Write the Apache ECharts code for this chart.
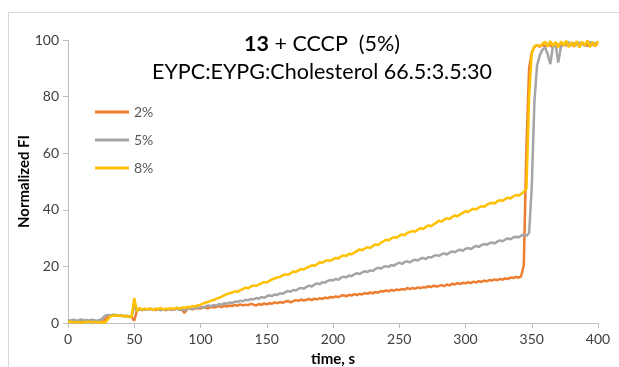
<!DOCTYPE html>
<html>
<head>
<meta charset="utf-8">
<script src="https://cdn.jsdelivr.net/npm/echarts@6/dist/echarts.min.js"></script>
<style>
  html, body { margin: 0; padding: 0; background: #fff; }
  #chart { width: 619px; height: 367px; }
</style>
</head>
<body>
<div id="chart"></div>
<script>
// time axis, one reading every 2 s
var timeS = [];
for (var k = 0; k <= 200; k++) { timeS.push(k * 2); }

var xTicks = [0, 50, 100, 150, 200, 250, 300, 350, 400];
var yTicks = [0, 20, 40, 60, 80, 100];
var seriesNames = ['2%', '5%', '8%'];

var fi2 = [
  0.6,0.4,0.7,0.5,0.3,0.6,0.9,0.4,0.5,0.6,
  0.4,0.5,0.3,0.6,1.3,2.3,2.6,2.7,2.8,2.6,
  2.7,2.5,2.4,2.3,2.2,0.8,4.4,5.0,4.6,4.9,
  4.7,5.1,4.8,4.6,5.0,4.8,4.9,4.5,5.0,4.8,
  4.7,5.0,4.9,4.6,3.6,4.9,5.1,4.8,5.2,5.3,
  5.1,5.6,5.4,5.2,5.8,5.5,5.7,6.0,5.6,6.1,
  5.8,6.2,6.0,6.4,6.1,6.6,6.2,6.5,6.3,6.8,
  6.5,6.2,6.7,6.4,6.9,6.6,7.0,6.8,7.3,7.0,
  7.4,7.1,7.6,7.8,7.3,7.7,8.1,7.8,8.3,7.9,
  8.2,8.5,8.1,8.6,8.3,8.8,8.5,9.0,8.7,9.2,
  9.0,9.4,9.1,9.6,9.8,9.4,10.0,9.7,10.2,9.9,
  10.3,10.1,10.6,10.3,10.8,10.5,11.0,10.7,11.3,11.1,
  11.5,11.2,11.7,11.4,11.9,11.6,12.0,11.8,12.3,12.0,
  12.4,12.1,12.6,12.3,12.7,12.5,13.0,12.7,13.2,12.9,
  13.1,13.4,13.0,13.6,13.3,13.9,13.6,14.1,13.8,14.2,
  14.0,14.4,14.1,14.6,14.3,14.8,14.5,15.0,14.7,15.2,
  15.0,15.4,15.1,15.6,15.3,15.8,15.5,16.1,15.9,16.3,
  16.0,16.5,20.5,62,90,95.5,97.5,98.2,97.6,98.4,
  97.8,98.6,98.1,97.5,98.8,98.2,97.7,98.5,98.0,98.9,
  98.3,97.8,98.6,98.1,99.0,98.4,97.9,98.7,98.2,98.9,
  98.5
];

var fi5 = [
  1.1,0.8,1.2,0.9,1.0,1.3,0.8,1.1,0.9,1.2,
  1.0,0.8,1.1,1.6,2.6,2.8,2.7,2.9,2.8,2.6,
  2.7,2.5,2.6,2.4,2.3,5.8,4.3,4.9,4.6,5.0,
  4.7,4.9,4.6,5.1,4.8,4.5,4.9,4.7,5.0,4.6,
  4.8,5.1,4.7,4.9,4.4,5.0,5.2,4.9,5.4,5.3,
  5.6,5.4,5.9,6.2,5.9,6.4,6.1,6.7,6.5,7.0,
  6.8,7.3,7.0,7.6,7.4,7.9,7.7,8.2,8.0,8.5,
  8.3,8.8,8.6,9.2,8.9,9.4,9.8,9.5,10.1,9.9,
  10.5,10.3,10.9,11.3,11.0,11.7,11.5,12.1,12.4,12.1,
  12.8,13.2,12.9,13.6,14.0,13.7,14.4,14.2,14.9,15.2,
  15.0,15.6,15.3,16.0,16.4,16.1,16.8,16.5,17.2,17.6,
  17.3,17.9,18.3,18.0,18.6,18.4,19.1,19.5,19.2,19.8,
  20.1,19.8,20.5,20.2,20.9,21.3,20.9,21.5,21.8,21.4,
  22.0,22.4,22.1,22.7,23.0,22.6,23.3,23.1,23.7,24.0,
  23.7,24.3,24.6,24.2,24.9,25.3,25.0,25.6,25.9,25.5,
  26.2,26.5,26.1,26.8,27.2,26.9,27.5,27.9,27.6,28.2,
  28.5,28.1,28.8,29.2,28.9,29.5,29.9,29.6,30.2,30.5,
  30.2,30.9,31.1,30.8,31.8,48,78,91,94.5,96.5,
  97.5,95,91.5,97.8,98.5,92,97.5,98.8,98.3,99.2,
  98.5,98.9,98.2,99.1,98.6,98.0,98.8,99.3,98.4,98.9,
  98.6
];

var fi8 = [
  0.3,0.5,0.2,0.4,0.3,0.1,0.4,0.3,0.5,0.2,
  0.4,0.3,0.2,0.3,0.2,1.2,2.4,2.6,2.7,2.5,
  2.6,2.4,2.5,2.3,2.2,8.8,4.2,5.3,4.7,5.1,
  4.8,5.2,4.6,5.0,4.9,5.3,4.8,5.1,4.9,5.2,
  5.0,5.4,5.1,5.5,5.3,5.7,5.5,6.0,5.8,6.3,
  6.4,6.9,7.2,7.5,7.9,8.1,8.6,8.9,9.3,9.8,
  10.2,10.5,10.8,11.2,11.0,11.6,12.0,12.5,12.3,12.9,
  13.3,13.1,13.6,14.0,14.5,14.3,14.9,15.4,15.8,16.1,
  16.3,16.8,17.2,17.0,17.6,18.2,18.0,18.6,19.1,18.9,
  19.5,19.9,20.4,20.2,20.8,21.5,21.3,21.9,22.2,22.0,
  22.5,23.0,22.8,23.5,23.9,23.7,24.5,24.2,24.9,25.4,
  26.0,25.7,26.3,26.8,26.5,27.2,27.8,27.5,28.3,28.8,
  29.4,29.2,29.9,30.3,30.1,30.8,31.3,31.0,31.8,32.2,
  32.5,32.2,33.0,33.5,33.2,33.9,34.5,34.2,34.9,35.4,
  36.2,35.8,36.6,37.0,36.7,37.5,38.0,37.7,38.4,38.9,
  39.5,39.2,39.9,40.4,40.1,40.8,41.3,41.0,41.8,42.2,
  42.5,42.2,43.0,43.4,43.1,43.8,44.3,44.0,44.7,45.2,
  45.0,45.6,46.3,47.5,80,95.5,97.8,98.2,97.9,98.5,
  99.4,97.6,99.6,97.9,99.3,97.4,99.5,98.0,99.7,97.5,
  99.2,97.8,99.6,97.3,99.4,98.1,99.8,97.5,99.3,97.7,
  99.6
];

var colors = ['#ED7D31', '#A5A5A5', '#FFC000'];
var font = 'Lato, "Open Sans", sans-serif';

function pairs(vals){
  var res = [];
  for (var i = 0; i < timeS.length; i++) { res.push([timeS[i], vals[i]]); }
  return res;
}

var chart = echarts.init(document.getElementById('chart'), null, { renderer: 'canvas' });

var axisLine = { lineStyle: { color: '#BFBFBF', width: 1 } };

chart.setOption({
  animation: false,
  backgroundColor: '#fff',
  color: colors,
  graphic: [{
    type: 'rect',
    shape: { x: 8.5, y: 12.5, width: 640, height: 400 },
    style: { fill: 'none', stroke: '#D9D9D9', lineWidth: 1 },
    silent: true
  }],
  title: {
    left: 317,
    textAlign: 'center',
    top: 25,
    text: '{b|13} + CCCP  (5%)\nEYPC:EYPG:Cholesterol 66.5:3.5:30',
    textStyle: {
      fontFamily: font,
      fontSize: 21.5,
      fontWeight: 'normal',
      color: '#000',
      lineHeight: 28,
      rich: {
        b: { fontFamily: font, fontSize: 21.5, fontWeight: 'bold', color: '#000', lineHeight: 28 }
      }
    }
  },
  legend: {
    orient: 'vertical',
    left: 95,
    top: 105,
    padding: 0,
    itemWidth: 34,
    itemHeight: 3,
    itemGap: 14,
    icon: 'rect',
    data: seriesNames,
    textStyle: { fontFamily: font, fontSize: 14, color: '#595959' }
  },
  grid: { left: 68, top: 40, width: 530, height: 283, outerBoundsMode: 'none', containLabel: false },
  xAxis: {
    type: 'value',
    min: xTicks[0],
    max: xTicks[xTicks.length - 1],
    interval: 50,
    name: 'time, s',
    nameLocation: 'middle',
    nameGap: 29,
    nameMoveOverlap: false,
    nameTextStyle: { fontFamily: font, fontSize: 15, fontWeight: 'bold', color: '#000' },
    axisLine: axisLine,
    axisTick: { show: true, length: 5, lineStyle: { color: '#BFBFBF' } },
    axisLabel: { fontFamily: font, fontSize: 14, color: '#404040', margin: 9 },
    splitLine: { show: false }
  },
  yAxis: {
    type: 'value',
    min: yTicks[0],
    max: yTicks[yTicks.length - 1],
    interval: 20,
    name: 'Normalized FI',
    nameLocation: 'middle',
    nameGap: 36,
    nameMoveOverlap: false,
    nameTextStyle: { fontFamily: font, fontSize: 15, fontWeight: 'bold', color: '#000' },
    axisLine: { show: true, lineStyle: { color: '#BFBFBF', width: 1 } },
    axisTick: { show: true, length: 5, lineStyle: { color: '#BFBFBF' } },
    axisLabel: { fontFamily: font, fontSize: 14, color: '#404040', margin: 9 },
    splitLine: { show: false }
  },
  series: [
    { name: seriesNames[0], type: 'line', data: pairs(fi2), showSymbol: false, lineStyle: { width: 2.5, color: colors[0] }, z: 2 },
    { name: seriesNames[1], type: 'line', data: pairs(fi5), showSymbol: false, lineStyle: { width: 2.5, color: colors[1] }, z: 3 },
    { name: seriesNames[2], type: 'line', data: pairs(fi8), showSymbol: false, lineStyle: { width: 2.5, color: colors[2] }, z: 4 }
  ]
});
</script>
</body>
</html>
